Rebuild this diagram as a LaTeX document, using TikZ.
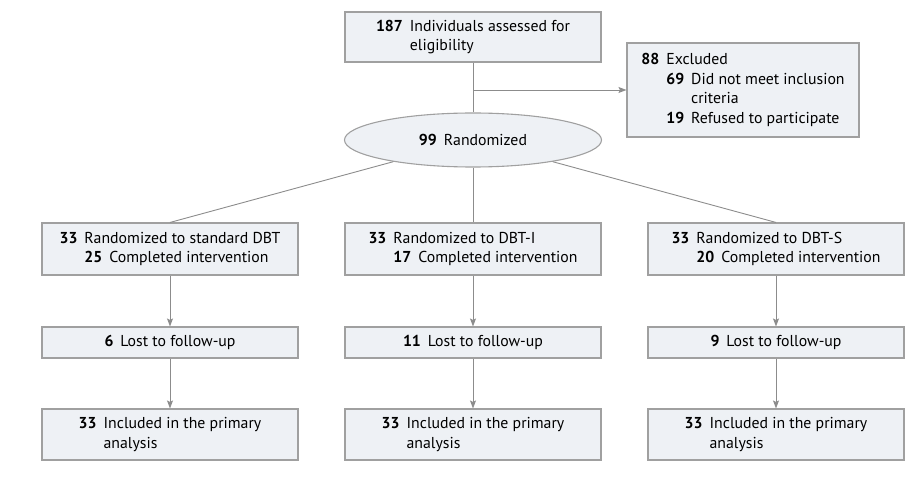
\documentclass[tikz,border=0pt]{standalone}
\usepackage{fontspec}
\setmainfont{PT Sans}
\usetikzlibrary{arrows.meta,shapes.geometric}
\definecolor{boxfill}{HTML}{EEF1F5}
\definecolor{boxline}{HTML}{A0A0A0}
\definecolor{conn}{HTML}{8C8C8C}
\tikzset{
  flowbox/.style={draw=boxline, fill=boxfill, line width=1.1pt, inner sep=0pt,
    minimum width=256pt, font=\fontsize{15.8}{19.5}\selectfont, align=center},
  ovalbox/.style={flowbox, ellipse, minimum width=257pt, minimum height=54pt},
  conline/.style={draw=conn, line width=0.9pt},
  conarrow/.style={conline, -{Stealth[length=8pt,width=6pt,inset=1.5pt]}}
}
\newcommand{\nb}[1]{\textbf{#1}}
\newcommand{\gp}{\hspace{7pt}}
\begin{document}
\begin{tikzpicture}[x=1pt,y=-1pt]
\useasboundingbox (0,0) rectangle (922,481);
% top
\node[flowbox, minimum height=50pt] (top) at (473,37)
  {\begin{tabular}{@{}r@{\gp}l@{}}\nb{187} & Individuals assessed for\\ & eligibility\end{tabular}};
\node[flowbox, minimum width=232pt, minimum height=94pt] (excl) at (743,90)
  {\begin{tabular}{@{}r@{\gp}r@{\gp}l@{}}\nb{88} & \multicolumn{2}{@{}l@{}}{Excluded}\\
   & \nb{69} & Did not meet inclusion\\ & & criteria\\ & \nb{19} & Refused to participate\end{tabular}};
\node[ovalbox] (rand) at (473,140) {\nb{99}\gp Randomized};
% row 1
\node[flowbox, minimum height=52pt] (l1) at (170,249)
  {\begin{tabular}{@{}r@{\gp}r@{\gp}l@{}}\nb{33} & \multicolumn{2}{@{}l@{}}{Randomized to standard DBT}\\ & \nb{25} & Completed intervention\end{tabular}};
\node[flowbox, minimum height=52pt] (m1) at (473,249)
  {\begin{tabular}{@{}r@{\gp}r@{\gp}l@{}}\nb{33} & \multicolumn{2}{@{}l@{}}{Randomized to DBT-I}\\ & \nb{17} & Completed intervention\end{tabular}};
\node[flowbox, minimum height=52pt] (r1) at (776,249)
  {\begin{tabular}{@{}r@{\gp}r@{\gp}l@{}}\nb{33} & \multicolumn{2}{@{}l@{}}{Randomized to DBT-S}\\ & \nb{20} & Completed intervention\end{tabular}};
% row 2
\node[flowbox, minimum height=31pt] (l2) at (170,342.5) {\nb{6}\gp Lost to follow-up};
\node[flowbox, minimum height=31pt] (m2) at (473,342.5) {\nb{11}\gp Lost to follow-up};
\node[flowbox, minimum height=31pt] (r2) at (776,342.5) {\nb{9}\gp Lost to follow-up};
% row 3
\node[flowbox, minimum height=51pt] (l3) at (170,434.5)
  {\begin{tabular}{@{}r@{\gp}l@{}}\nb{33} & Included in the primary\\ & analysis\end{tabular}};
\node[flowbox, minimum height=51pt] (m3) at (473,434.5)
  {\begin{tabular}{@{}r@{\gp}l@{}}\nb{33} & Included in the primary\\ & analysis\end{tabular}};
\node[flowbox, minimum height=51pt] (r3) at (776,434.5)
  {\begin{tabular}{@{}r@{\gp}l@{}}\nb{33} & Included in the primary\\ & analysis\end{tabular}};
% connectors
\coordinate (br) at (top.south |- excl.west);
\draw[conline] (top) -- (rand);
\draw[conarrow] (br) -- (excl.west);
\draw[conline] (rand) -- (l1.north);
\draw[conline] (rand) -- (m1.north);
\draw[conline] (rand) -- (r1.north);
\draw[conarrow] (l1) -- (l2);
\draw[conarrow] (m1) -- (m2);
\draw[conarrow] (r1) -- (r2);
\draw[conarrow] (l2) -- (l3);
\draw[conarrow] (m2) -- (m3);
\draw[conarrow] (r2) -- (r3);
\end{tikzpicture}
\end{document}
